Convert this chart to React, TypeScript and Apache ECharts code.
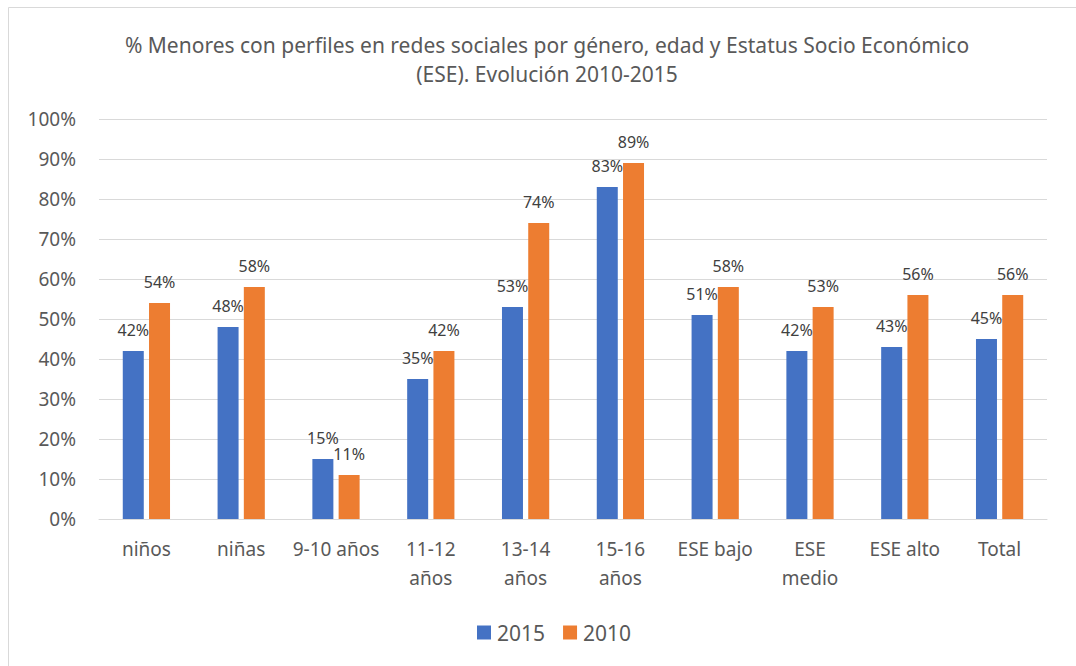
import React, { useEffect, useRef } from "react";
import * as echarts from "echarts";

const titleLines = [
  "% Menores con perfiles en redes sociales por género, edad y Estatus Socio Económico",
  "(ESE). Evolución 2010-2015",
];
const categories = [
  "niños",
  "niñas",
  "9-10 años",
  "11-12\naños",
  "13-14\naños",
  "15-16\naños",
  "ESE bajo",
  "ESE\nmedio",
  "ESE alto",
  "Total",
];
const seriesNames = ["2015", "2010"];
const values2015 = [42, 48, 15, 35, 53, 83, 51, 42, 43, 45];
const values2010 = [54, 58, 11, 42, 74, 89, 58, 53, 56, 56];
const yTicks = { min: 0, max: 100, interval: 10 };

const FONT = "'Noto Sans', 'Open Sans', sans-serif";
const TEXT = "#595959";

export default function App() {
  const ref = useRef<HTMLDivElement>(null);
  useEffect(() => {
    if (!ref.current) return;
    const chart = echarts.init(ref.current, null, { renderer: "svg" });
    const labelCfg = {
      show: true,
      position: "top",
      distance: 13,
      formatter: "{c}%",
      color: "#404040",
      fontSize: 16,
      fontFamily: FONT,
    };
    chart.setOption({
      animation: false,
      backgroundColor: "#ffffff",
      textStyle: { fontFamily: FONT },
      title: {
        text: titleLines.join("\n"),
        left: 542,
        textAlign: "center",
        top: 25,
        textStyle: {
          color: TEXT,
          fontSize: 21,
          fontWeight: "normal",
          fontFamily: FONT,
          lineHeight: 29,
        },
      },
      graphic: [
        {
          type: "rect",
          shape: { x: 8.5, y: 7.5, width: 1200, height: 800 },
          style: { fill: "none", stroke: "#D9D9D9", lineWidth: 1 },
          silent: true,
        },
      ],
      legend: {
        data: seriesNames,
        top: 617,
        left: 472,
        itemWidth: 14,
        itemHeight: 14,
        itemGap: 18,
        icon: "rect",
        textStyle: { color: TEXT, fontSize: 21, fontFamily: FONT, padding: [0, 0, 0, 1] },
      },
      grid: { left: 99, right: 29, top: 119, bottom: 147, containLabel: false },
      xAxis: {
        type: "category",
        data: categories,
        axisLine: { show: true, lineStyle: { color: "#D9D9D9", width: 1 } },
        axisTick: { show: false },
        axisLabel: {
          color: TEXT,
          fontSize: 19,
          fontFamily: FONT,
          margin: 15,
          lineHeight: 29,
          interval: 0,
        },
      },
      yAxis: {
        type: "value",
        min: yTicks.min,
        max: yTicks.max,
        interval: yTicks.interval,
        axisLine: { show: false },
        axisTick: { show: false },
        splitLine: { lineStyle: { color: "#D9D9D9", width: 1 } },
        axisLabel: {
          formatter: "{value}%",
          color: TEXT,
          fontSize: 19,
          fontFamily: FONT,
          margin: 23,
        },
      },
      series: [
        {
          name: seriesNames[0],
          type: "bar",
          data: values2015,
          barWidth: 21,
          barGap: "25%",
          itemStyle: { color: "#4472C4" },
          label: labelCfg,
        },
        {
          name: seriesNames[1],
          type: "bar",
          data: values2010,
          barWidth: 21,
          itemStyle: { color: "#ED7D31" },
          label: labelCfg,
        },
      ],
    });
    return () => chart.dispose();
  }, []);
  return (
    <div
      ref={ref}
      style={{ position: "absolute", left: 0, top: 0, width: 1076, height: 666 }}
    />
  );
}
